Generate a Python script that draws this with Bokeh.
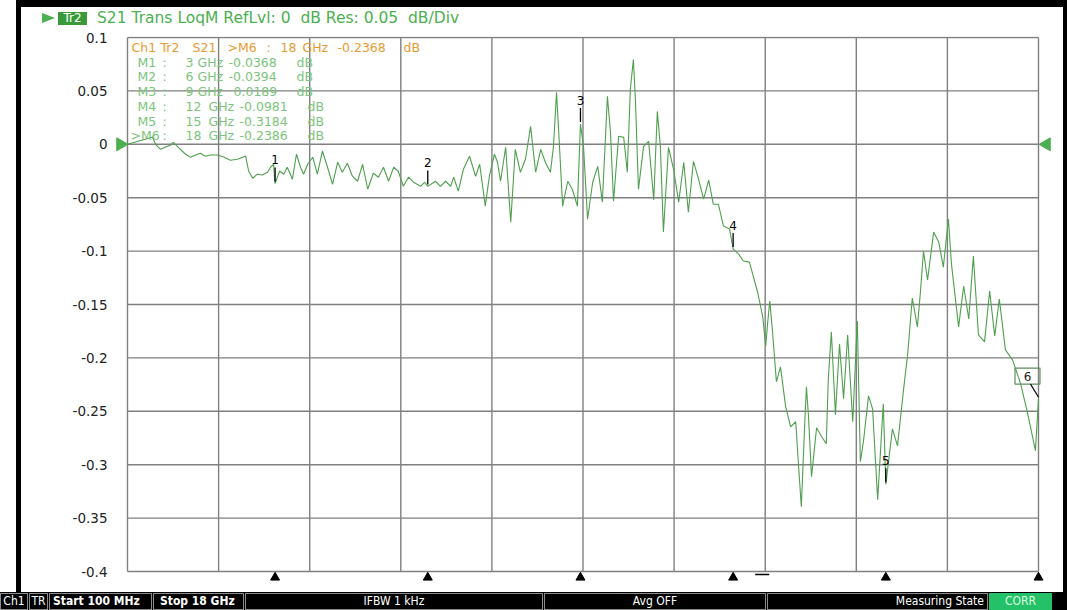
import math
from bokeh.plotting import figure
from bokeh.models import ColumnDataSource, FixedTicker, CustomJSTickFormatter, Div, Range1d
from bokeh.layouts import row, column
from bokeh.embed import file_html
from bokeh.resources import INLINE
from bokeh.core.properties import value

freq_ghz = [
    0.10, 0.45, 0.59, 0.65, 0.75, 0.85, 0.94, 1.00, 1.10, 1.24,
    1.34, 1.44, 1.53, 1.63, 1.73, 1.87, 1.99, 2.12, 2.26, 2.38,
    2.42, 2.48, 2.56, 2.65, 2.75, 2.85, 2.91, 2.97, 3.00, 3.09,
    3.17, 3.24, 3.34, 3.42, 3.50, 3.56, 3.64, 3.74, 3.83, 3.93,
    4.03, 4.13, 4.23, 4.32, 4.42, 4.52, 4.62, 4.72, 4.82, 4.93,
    5.03, 5.13, 5.23, 5.33, 5.42, 5.52, 5.62, 5.72, 5.86, 5.94,
    6.00, 6.15, 6.25, 6.35, 6.45, 6.51, 6.60, 6.70, 6.82, 6.94,
    7.02, 7.13, 7.21, 7.31, 7.37, 7.43, 7.53, 7.63, 7.72, 7.82,
    7.92, 8.02, 8.12, 8.22, 8.31, 8.41, 8.47, 8.53, 8.57, 8.65,
    8.75, 8.84, 8.94, 9.00, 9.06, 9.14, 9.24, 9.34, 9.43, 9.53,
    9.59, 9.65, 9.75, 9.85, 9.92, 9.98, 10.04, 10.08, 10.14, 10.24,
    10.34, 10.44, 10.51, 10.57, 10.63, 10.73, 10.83, 10.93, 11.03, 11.12,
    11.22, 11.32, 11.42, 11.52, 11.61, 11.71, 11.81, 11.93, 12.00, 12.11,
    12.20, 12.32, 12.48, 12.58, 12.64, 12.68, 12.72, 12.77, 12.85, 12.93,
    13.03, 13.13, 13.23, 13.28, 13.34, 13.40, 13.44, 13.48, 13.54, 13.64,
    13.74, 13.83, 13.87, 13.93, 14.01, 14.09, 14.17, 14.25, 14.35, 14.44,
    14.50, 14.56, 14.66, 14.74, 14.84, 14.95, 15.00, 15.13, 15.23, 15.35,
    15.43, 15.52, 15.62, 15.68, 15.74, 15.82, 15.94, 16.04, 16.13, 16.23,
    16.29, 16.43, 16.53, 16.63, 16.72, 16.82, 16.94, 17.04, 17.14, 17.23,
    17.35, 17.49, 17.65, 17.78, 17.94, 18.00,
]
s21_db = [
    0.0000, 0.0047, 0.0068, 0.0000, -0.0047, -0.0025, -0.0009, 0.0019, -0.0028, -0.0093,
    -0.0121, -0.0100, -0.0084, -0.0112, -0.0100, -0.0100, -0.0119, -0.0150, -0.0140, -0.0119,
    -0.0109, -0.0250, -0.0318, -0.0280, -0.0287, -0.0262, -0.0215, -0.0187, -0.0368, -0.0250,
    -0.0280, -0.0215, -0.0327, -0.0093, -0.0215, -0.0280, -0.0187, -0.0121, -0.0280, -0.0063,
    -0.0215, -0.0374, -0.0168, -0.0262, -0.0178, -0.0299, -0.0346, -0.0187, -0.0421, -0.0271,
    -0.0308, -0.0215, -0.0346, -0.0215, -0.0252, -0.0393, -0.0308, -0.0355, -0.0393, -0.0355,
    -0.0394, -0.0346, -0.0393, -0.0346, -0.0393, -0.0308, -0.0439, -0.0234, -0.0112, -0.0299,
    -0.0187, -0.0579, -0.0299, -0.0093, -0.0168, -0.0346, -0.0028, -0.0729, -0.0047, -0.0262,
    -0.0140, 0.0168, -0.0262, -0.0047, -0.0168, -0.0262, -0.0019, 0.0486, 0.0140, -0.0579,
    -0.0346, -0.0421, -0.0579, 0.0189, -0.0019, -0.0701, -0.0355, -0.0206, -0.0542, 0.0449,
    0.0112, -0.0533, 0.0075, 0.0065, -0.0262, 0.0514, 0.0794, 0.0421, -0.0421, -0.0019,
    0.0028, -0.0520, 0.0308, -0.0019, -0.0822, -0.0028, -0.0234, -0.0542, -0.0168, -0.0636,
    -0.0159, -0.0327, -0.0514, -0.0336, -0.0561, -0.0561, -0.0766, -0.0794, -0.0981, -0.1028,
    -0.1093, -0.1103, -0.1383, -0.1608, -0.1888, -0.1664, -0.1467, -0.1729, -0.2224, -0.2084,
    -0.2449, -0.2645, -0.2598, -0.2972, -0.3393, -0.2692, -0.2271, -0.2542, -0.3112, -0.2654,
    -0.2738, -0.2804, -0.2196, -0.1757, -0.2533, -0.1869, -0.2383, -0.1785, -0.2598, -0.1654,
    -0.2972, -0.2785, -0.2355, -0.2477, -0.3327, -0.2430, -0.3184, -0.2664, -0.2823, -0.2290,
    -0.1963, -0.1439, -0.1710, -0.1383, -0.1000, -0.1271, -0.0822, -0.0916, -0.1150, -0.0701,
    -0.1122, -0.1710, -0.1327, -0.1636, -0.1047, -0.1785, -0.1850, -0.1374, -0.1794, -0.1449,
    -0.1925, -0.2019, -0.2243, -0.2505, -0.2869, -0.2386,
]
marker_ids = [1, 2, 3, 4, 5, 6]
marker_freq_ghz = [3, 6, 9, 12, 15, 18]
marker_db = [-0.0368, -0.0394, 0.0189, -0.0981, -0.3184, -0.2386]
active_marker = 6
active_marker_db = -0.2368
y_ticks = [0.1, 0.05, 0, -0.05, -0.1, -0.15, -0.2, -0.25, -0.3, -0.35, -0.4]
f_start_ghz, f_stop_ghz = 0.1, 18.0
trace_name = "Tr2"
header_text = "S21 Trans LoqM RefLvl: 0  dB Res: 0.05  dB/Div"
status_labels = ["Ch1", "TR", "Start 100 MHz", "Stop 18 GHz", "IFBW 1 kHz",
                 "Avg OFF", "Measuring State", "CORR"]

# ---------------- layout / style constants ----------------
FRAME_W, FRAME_H = 911, 534          # graticule size in px
GRAT_LEFT, GRAT_TOP = 127, 37        # graticule position on the page
PX_GHZ = FRAME_W / (f_stop_ghz - f_start_ghz)
PX_DB = FRAME_H / (y_ticks[0] - y_ticks[-1])


def gx(px):
    return px / PX_GHZ


def gy(px):
    return px / PX_DB


def page_x(px):
    return f_start_ghz + gx(px - GRAT_LEFT)


def page_y(py):
    return y_ticks[0] - gy(py - GRAT_TOP)


GRID = "#808080"
TRACE = "#4f9f4f"
BRIGHT_GREEN = "#4caf50"
ORANGE = "#e89a30"
LIST_GREEN = "#7cc47c"
FONT = "DejaVu Sans"

x_lo = f_start_ghz - gx(16)
x_hi = f_stop_ghz + gx(24)
y_top = y_ticks[0] + gy(1)
y_bot = y_ticks[-1] - gy(19)

p = figure(width=1042, height=562, x_range=Range1d(x_lo, x_hi), y_range=Range1d(y_bot, y_top),
           output_backend="svg", toolbar_location=None, title=None, x_axis_location=None,
           y_axis_location="left", min_border_left=90, min_border_right=1,
           min_border_top=6, min_border_bottom=2)
p.grid.visible = False
p.outline_line_color = None
p.background_fill_color = "white"
p.border_fill_color = "white"

yax = p.yaxis[0]
yax.ticker = FixedTicker(ticks=y_ticks)
yax.formatter = CustomJSTickFormatter(code="return String(Math.round(tick*1000)/1000);")
yax.axis_line_color = None
yax.major_tick_line_color = None
yax.minor_tick_line_color = None
yax.major_tick_out = 0
yax.major_tick_in = 0
yax.major_label_standoff = 4
yax.major_label_text_font = FONT
yax.major_label_text_font_size = "13.5px"
yax.major_label_text_color = "#222222"

# graticule (10 x 10 divisions)
n_div = len(y_ticks) - 1
vx = [f_start_ghz + i * (f_stop_ghz - f_start_ghz) / n_div for i in range(n_div + 1)]
p.segment(x0=vx, y0=[y_ticks[-1]] * len(vx), x1=vx, y1=[y_ticks[0]] * len(vx),
          line_color=GRID, line_width=1.4)
p.segment(x0=[f_start_ghz] * len(y_ticks), y0=y_ticks, x1=[f_stop_ghz] * len(y_ticks), y1=y_ticks,
          line_color=GRID, line_width=1.4)

# trace
p.line(freq_ghz, s21_db, line_color=TRACE, line_width=1.1)

# reference-level arrows
p.scatter([f_start_ghz - gx(7)], [0], marker="triangle", size=13, angle=-math.pi / 2,
          fill_color=BRIGHT_GREEN, line_color=BRIGHT_GREEN)
p.scatter([f_stop_ghz + gx(8)], [0], marker="triangle", size=13, angle=math.pi / 2,
          fill_color=BRIGHT_GREEN, line_color=BRIGHT_GREEN)

# marker ticks + numbers (markers 1..5), active marker box (6)
norm = [i for i, m in enumerate(marker_ids) if m != active_marker]
p.segment(x0=[marker_freq_ghz[i] for i in norm], y0=[marker_db[i] + gy(2) for i in norm],
          x1=[marker_freq_ghz[i] for i in norm], y1=[marker_db[i] + gy(16) for i in norm],
          line_color="black", line_width=1.3)
p.text(x=[marker_freq_ghz[i] for i in norm], y=[marker_db[i] + gy(24) for i in norm],
       text=[str(marker_ids[i]) for i in norm], text_align="center", text_baseline="middle",
       text_font=value(FONT), text_font_size=value("12px"), text_color="black")
ia = marker_ids.index(active_marker)
fa, va = marker_freq_ghz[ia], marker_db[ia]
p.rect(x=[fa - gx(11)], y=[va + gy(23)], width=25, height=16, width_units="screen",
       height_units="screen", fill_color="white", fill_alpha=0.0, line_color="#5e8a5e", line_width=1.2)
p.text(x=[fa - gx(11)], y=[va + gy(23)], text=[str(active_marker)], text_align="center",
       text_baseline="middle", text_font=value(FONT), text_font_size=value("12px"), text_color="#222222")
p.segment(x0=[fa - gx(8)], y0=[va + gy(15)], x1=[fa], y1=[va + gy(2)], line_color="black", line_width=1.1)

# marker triangles under the graticule
p.scatter(marker_freq_ghz, [y_ticks[-1] - gy(6)] * len(marker_freq_ghz), marker="triangle",
          size=9, fill_color="black", line_color="black")
p.segment(x0=[vx[7] - gx(10)], y0=[y_ticks[-1] - gy(3)], x1=[vx[7] + gx(4)], y1=[y_ticks[-1] - gy(3)],
          line_color="black", line_width=1.4)

# marker table
tx, ty, tt, tc = [], [], [], []


def put(txt, px, py, col):
    tx.append(page_x(px))
    ty.append(page_y(py))
    tt.append(txt)
    tc.append(col)


row0 = ["Ch1", trace_name, "S21", ">M%d" % active_marker, ":", "%g" % marker_freq_ghz[ia], "GHz",
        "%.4f" % active_marker_db, "dB"]
for txt, px in zip(row0, [131, 160, 192, 227, 266, 280, 302, 337, 403]):
    put(txt, px, 47, ORANGE)
for k, (mid, mf, mv) in enumerate(zip(marker_ids, marker_freq_ghz, marker_db)):
    py = 47 + (k + 1) * 14.7
    name = (">M%d" % mid) if mid == active_marker else ("M%d" % mid)
    shift = 11 if mf >= 10 else 0
    put(name, 130 if mid == active_marker else 137, py, LIST_GREEN)
    put(":", 162, py, LIST_GREEN)
    put("%g" % mf, 185, py, LIST_GREEN)
    put("GHz", 197 + shift, py, LIST_GREEN)
    put("%.4f" % mv, 228 + shift + (5 if mv >= 0 else 0), py, LIST_GREEN)
    put("dB", 296 + shift, py, LIST_GREEN)

tsrc = ColumnDataSource(dict(x=tx, y=ty, text=tt, color=tc))
p.text(x="x", y="y", text="text", source=tsrc, text_color="color", text_align="left",
       text_baseline="middle", text_font=value(FONT), text_font_size=value("12.5px"))

# ---------------- header ----------------
header_html = (
    '<div style="position:relative;width:1042px;height:23px;font-family:\'DejaVu Sans\',sans-serif;'
    'white-space:pre;overflow:visible;">'
    '<div style="position:absolute;left:21px;top:6px;width:0;height:0;border-top:5px solid transparent;'
    'border-bottom:5px solid transparent;border-left:13px solid %s;"></div>'
    '<div style="position:absolute;left:37px;top:5px;width:29px;height:13px;background:#3a9a3a;'
    'color:#ffffff;font-size:12px;line-height:13px;text-align:center;">%s</div>'
    '<div style="position:absolute;left:76px;top:0px;height:22px;line-height:22px;font-size:15.5px;'
    'color:%s;">%s</div></div>'
) % (BRIGHT_GREEN, trace_name, BRIGHT_GREEN, header_text)
header = Div(text=header_html, width=1042, height=23, margin=0)
top_bar = Div(text="", width=1042, height=7, margin=0, styles={"background-color": "black"})

# ---------------- status bar ----------------
status_boxes = [(0, 28, "center", False, 1), (29, 48, "center", False, 1), (49, 152, "left", True, 3),
                (153, 244, "left", True, 6), (245, 543, "center", False, 4), (544, 766, "center", False, 4),
                (767, 988, "right", False, 3), (989, 1052, "center", False, 2)]
parts = ['<div style="position:relative;width:1067px;height:18px;background:#000000;'
         'font-family:\'Liberation Sans Narrow\',\'DejaVu Sans Condensed\',\'Liberation Sans\',sans-serif;'
         'font-stretch:condensed;">']
for lab, (l, r, al, bold, pad) in zip(status_labels, status_boxes):
    is_corr = lab == "CORR"
    parts.append(
        '<div style="position:absolute;left:%dpx;top:1px;width:%dpx;height:17px;box-sizing:border-box;'
        'border:1px solid %s;background:%s;padding:0 %dpx;text-align:%s;line-height:15px;font-size:12px;'
        'color:%s;font-weight:%s;white-space:nowrap;overflow:hidden;">%s</div>'
        % (l, r - l, "#25c168" if is_corr else "#8a8a8a", "#25c168" if is_corr else "#000000",
           pad, al, "#d8ffe0" if is_corr else "#ffffff", "bold" if bold else "normal", lab))
parts.append('</div>')
status = Div(text="".join(parts), width=1067, height=18, margin=0)

left_white = Div(text="", width=16, height=592, margin=0)
left_black = Div(text="", width=5, height=592, margin=0, styles={"background-color": "black"})
right_black = Div(text="", width=4, height=592, margin=0, styles={"background-color": "black"})
top = row(left_white, left_black, column(top_bar, header, p, spacing=0), right_black, spacing=0)
layout = column(top, status, spacing=0)

open("out.html", "w").write(file_html(layout, INLINE))
